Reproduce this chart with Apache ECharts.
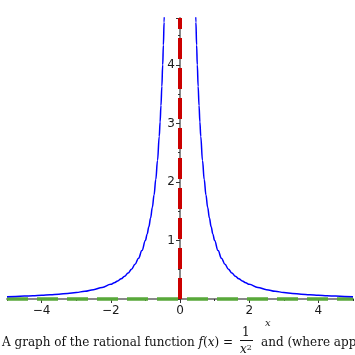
<!DOCTYPE html>
<html><head><meta charset="utf-8">
<script src="https://cdn.jsdelivr.net/npm/echarts@6/dist/echarts.min.js"></script>
<style>html,body{margin:0;padding:0;background:#fff}#c{width:355px;height:355px}</style>
</head><body><div id="c"></div>
<script>
// Data (f(x) = 1/x^2)
var xLeft = [-5, -4.75, -4.5, -4.25, -4, -3.75, -3.5, -3.25, -3, -2.75, -2.5, -2.25, -2, -1.9, -1.8, -1.7, -1.6, -1.5, -1.4, -1.3, -1.2, -1.1, -1, -0.95, -0.9, -0.85, -0.8, -0.75, -0.7, -0.65, -0.6, -0.575, -0.55, -0.525, -0.5, -0.48, -0.46, -0.44];
var yLeft = [0.04, 0.0443, 0.0494, 0.0554, 0.0625, 0.0711, 0.0816, 0.0947, 0.1111, 0.1322, 0.16, 0.1975, 0.25, 0.277, 0.3086, 0.346, 0.3906, 0.4444, 0.5102, 0.5917, 0.6944, 0.8264, 1, 1.108, 1.2346, 1.3841, 1.5625, 1.7778, 2.0408, 2.3669, 2.7778, 3.0246, 3.3058, 3.6281, 4, 4.3403, 4.7259, 5.1653];
var xRight = [0.44, 0.46, 0.48, 0.5, 0.525, 0.55, 0.575, 0.6, 0.65, 0.7, 0.75, 0.8, 0.85, 0.9, 0.95, 1, 1.1, 1.2, 1.3, 1.4, 1.5, 1.6, 1.7, 1.8, 1.9, 2, 2.25, 2.5, 2.75, 3, 3.25, 3.5, 3.75, 4, 4.25, 4.5, 4.75, 5];
var yRight = [5.1653, 4.7259, 4.3403, 4, 3.6281, 3.3058, 3.0246, 2.7778, 2.3669, 2.0408, 1.7778, 1.5625, 1.3841, 1.2346, 1.108, 1, 0.8264, 0.6944, 0.5917, 0.5102, 0.4444, 0.3906, 0.346, 0.3086, 0.277, 0.25, 0.1975, 0.16, 0.1322, 0.1111, 0.0947, 0.0816, 0.0711, 0.0625, 0.0554, 0.0494, 0.0443, 0.04];
var hAsymX = [-5, 5], hAsymY = [0, 0];
var vAsymX = [0, 0], vAsymY = [0, 4.8];
var xTickLabels = [-4, -2, 0, 2, 4];
var yTickLabels = [1, 2, 3, 4];

function pairs(xs, ys) { return xs.map(function (x, i) { return [x, ys[i]]; }); }
var minus = function (v) { return String(v).replace('-', '\u2212'); };

var chart = echarts.init(document.getElementById('c'), null, { renderer: 'canvas' });
var labelStyle = { fontFamily: 'DejaVu Sans', fontSize: 12, color: '#1a1a1a' };
chart.setOption({
  animation: false,
  grid: { left: 7, right: 2, top: 18, bottom: 56, containLabel: false, outerBoundsMode: 'none' },
  xAxis: [{
    type: 'value', min: -5, max: 5, interval: 1, z: 0,
    axisLine: { onZero: false, lineStyle: { color: '#888', width: 2 } },
    axisTick: { show: true, length: 2, lineStyle: { color: '#333' } },
    axisLabel: Object.assign({ customValues: xTickLabels, margin: 6, formatter: minus }, labelStyle),
    splitLine: { show: false }
  }, {
    type: 'value', min: -5, max: 5, interval: 1, position: 'bottom', z: 0,
    axisLine: { show: false, onZero: false },
    axisTick: { show: true, length: 4, customValues: xTickLabels, lineStyle: { color: '#333' } },
    axisLabel: { show: false },
    splitLine: { show: false }
  }],
  yAxis: {
    type: 'value', min: 0, max: 4.8, interval: 1, position: 'left', offset: -173, z: 0,
    axisLine: { onZero: false, lineStyle: { color: '#888', width: 2 } },
    axisTick: { show: true, length: 4, lineStyle: { color: '#333' } },
    minorTick: { show: true, splitNumber: 2, length: 2, lineStyle: { color: '#333' } },
    axisLabel: Object.assign({ customValues: yTickLabels, margin: 5, formatter: minus }, labelStyle),
    splitLine: { show: false }
  },
  series: [
    { type: 'line', data: pairs(hAsymX, hAsymY), symbol: 'none', z: 10, clip: false,
      lineStyle: { color: '#58a83a', width: 3.5, type: [21, 9] } },
    { type: 'line', data: pairs(xLeft, yLeft), symbol: 'none', smooth: 0.4, smoothMonotone: 'x', z: 11,
      lineStyle: { color: '#0000ff', width: 1.5 } },
    { type: 'line', data: pairs(xRight, yRight), symbol: 'none', smooth: 0.4, smoothMonotone: 'x', z: 11,
      lineStyle: { color: '#0000ff', width: 1.5 } },
    { type: 'line', data: pairs(vAsymX, vAsymY), symbol: 'none', z: 12, clip: false,
      lineStyle: { color: '#cc0000', width: 4, type: [21, 9] } }
  ],
  graphic: [
    { type: 'text', left: 265, top: 318, style: { text: 'x', font: 'italic 10px "DejaVu Serif"', fill: '#222' } },
    { type: 'text', left: 2, top: 337, style: {
      text: 'A graph of the rational function {i|f}({i|x}) =',
      font: '12px "DejaVu Serif"', fill: '#111',
      rich: { i: { fontStyle: 'italic', fontFamily: 'DejaVu Serif', fontSize: 12 } } } },
    { type: 'text', left: 242, top: 327, style: { text: '1', font: '12px "DejaVu Serif"', fill: '#111' } },
    { type: 'line', shape: { x1: 240, y1: 340.5, x2: 253, y2: 340.5 }, style: { stroke: '#111', lineWidth: 1 } },
    { type: 'text', left: 240, top: 344, style: { text: '{i|x}{s|2}', font: '12px "DejaVu Serif"', fill: '#111',
      rich: { i: { fontStyle: 'italic', fontFamily: 'DejaVu Serif', fontSize: 12 }, s: { fontFamily: 'DejaVu Serif', fontSize: 8, verticalAlign: 'top' } } } },
    { type: 'text', left: 261, top: 337, style: { text: 'and (where app', font: '12px "DejaVu Serif"', fill: '#111' } }
  ]
});
</script></body></html>
